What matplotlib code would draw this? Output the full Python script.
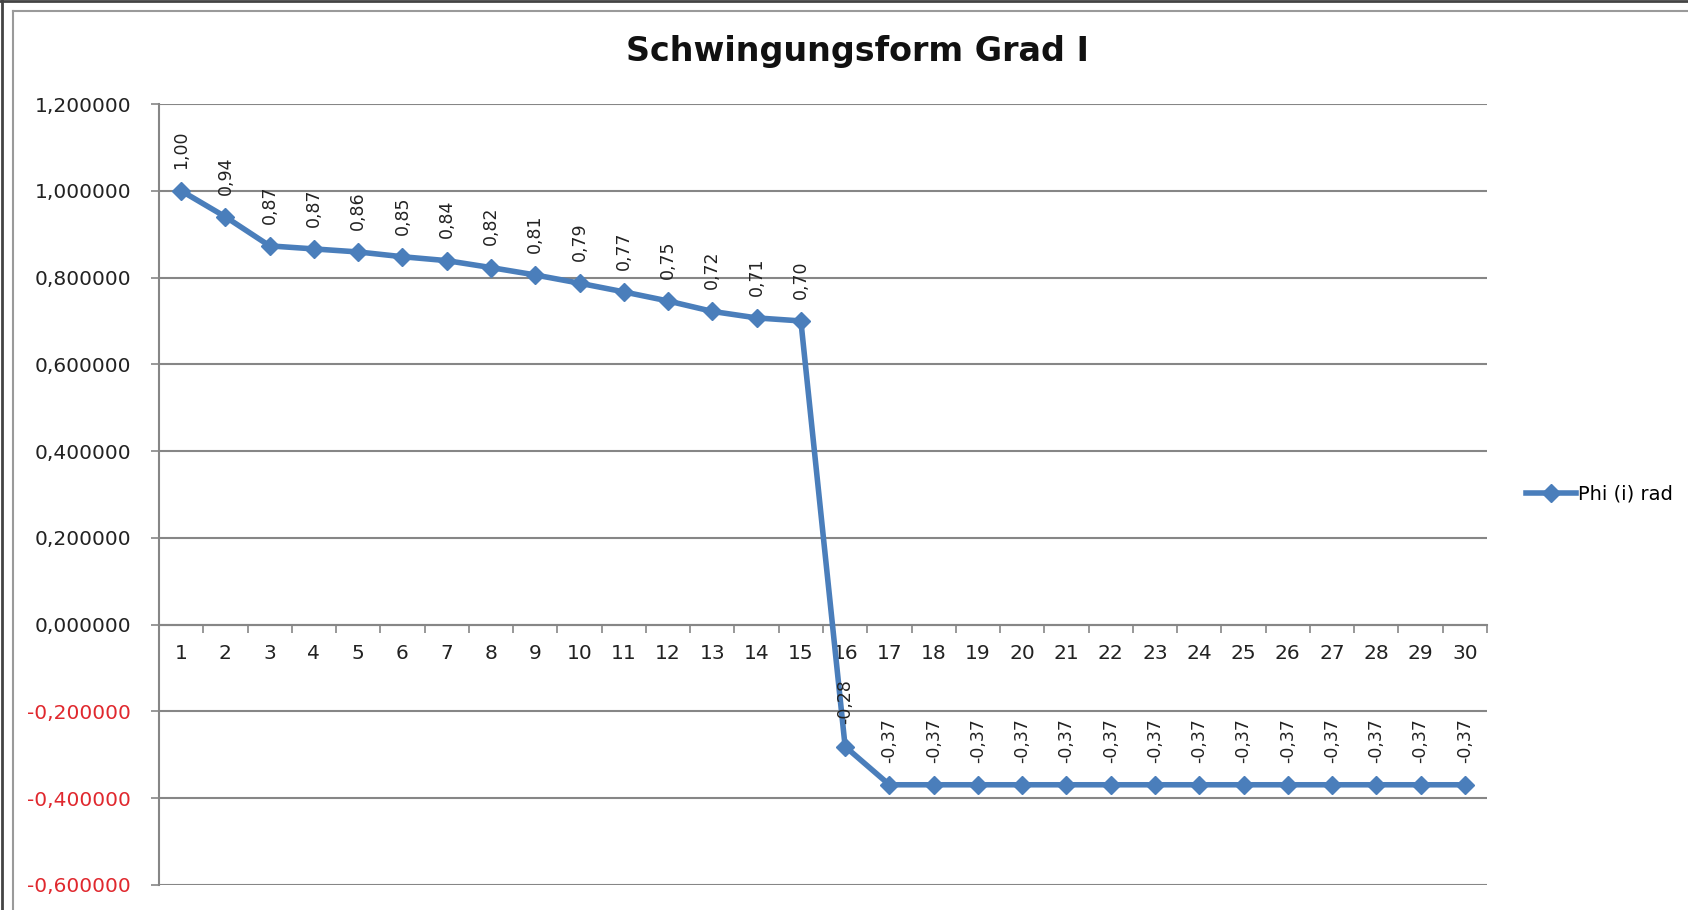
import matplotlib
matplotlib.use("Agg")
import matplotlib.pyplot as plt
from matplotlib.lines import Line2D
from matplotlib.ticker import FixedLocator, FuncFormatter

# Schwingungsform Grad I - Excel chart
knoten = list(range(1, 31))
phi = [1.000, 0.940, 0.873, 0.866, 0.859, 0.848, 0.839, 0.823, 0.806, 0.787,
       0.767, 0.746, 0.722, 0.707, 0.700, -0.281, -0.369, -0.369, -0.369, -0.369,
       -0.369, -0.369, -0.369, -0.369, -0.369, -0.369, -0.369, -0.369, -0.369, -0.369]
y_ticks = [-0.6, -0.4, -0.2, 0.0, 0.2, 0.4, 0.6, 0.8, 1.0, 1.2]
title = "Schwingungsform Grad I"
series_name = "Phi (i) rad"

blue = "#4A7EBB"
grey = "#868686"
red = "#E0282E"

fig = plt.figure(figsize=(16.88, 9.10), dpi=100)
ax = fig.add_axes([159 / 1688, 25 / 910, 1328 / 1688, 781 / 910])

ax.plot(knoten, phi, color=blue, lw=4, marker="D", markersize=9,
        markeredgecolor=blue, label=series_name, zorder=3)

# data labels, rotated like in Excel
for x, y in zip(knoten, phi):
    ax.annotate(("%.2f" % y).replace(".", ","), (x, y), xytext=(0, 16),
                textcoords="offset points", rotation=90, ha="center", va="bottom",
                fontsize=12.5, color="#222222", zorder=4)

ax.set_xlim(0.5, 30.5)
ax.set_ylim(-0.6, 1.2)

ax.set_yticks(y_ticks)
ax.yaxis.set_major_formatter(FuncFormatter(lambda v, p: ("%.6f" % v).replace(".", ",")))
for lab, v in zip(ax.get_yticklabels(), y_ticks):
    lab.set_color(red if v < 0 else "#222222")
ax.tick_params(axis="y", direction="out", length=6, width=1.2, color=grey,
               labelsize=14.5, pad=14)
ax.grid(axis="y", color=grey, lw=1.5)
ax.set_axisbelow(True)

ax.spines["bottom"].set_position(("data", 0))
ax.spines["bottom"].set_color(grey)
ax.spines["bottom"].set_linewidth(1.5)
ax.spines["left"].set_color(grey)
ax.spines["left"].set_linewidth(1.5)
ax.spines["top"].set_visible(False)
ax.spines["right"].set_visible(False)

ax.set_xticks(knoten)
ax.set_xticklabels([str(k) for k in knoten])
ax.xaxis.set_minor_locator(FixedLocator([k + 0.5 for k in range(0, 31)]))
ax.tick_params(axis="x", which="major", length=0, labelsize=14.5, pad=14,
               labelcolor="#222222")
ax.tick_params(axis="x", which="minor", direction="out", length=6, width=1.2,
               color=grey)

fig.text(858 / 1688, 1 - 52 / 910, title, ha="center", va="center",
         fontsize=24, fontweight="bold", color="#111111")

ax.legend(loc="center left", bbox_to_anchor=(1.029, 0.5), frameon=False,
          handlelength=2.6, handletextpad=0.1, borderpad=0, borderaxespad=0,
          fontsize=14)

# sheet / chart borders from the screenshot
fig.add_artist(Line2D([13 / 1688, 13 / 1688], [0, 1 - 11 / 910], transform=fig.transFigure,
                      color="#9a9a9a", lw=1.5))
fig.add_artist(Line2D([13 / 1688, 1], [1 - 11 / 910, 1 - 11 / 910], transform=fig.transFigure,
                      color="#9a9a9a", lw=1.5))
fig.add_artist(Line2D([0.001, 0.001], [0, 1], transform=fig.transFigure, color="#444444", lw=2))
fig.add_artist(Line2D([0, 1], [0.999, 0.999], transform=fig.transFigure, color="#444444", lw=2))

fig.savefig("out.png", dpi=100)
